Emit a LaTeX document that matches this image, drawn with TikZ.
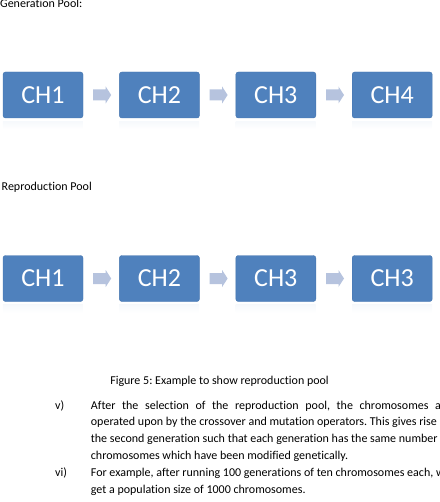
\documentclass[tikz,border=0pt]{standalone}
\usepackage{fontspec}
\setmainfont{Carlito}[Ligatures={NoCommon}]
\usetikzlibrary{positioning}
\usetikzlibrary{calc}
\definecolor{chblue}{RGB}{79,129,189}
\definecolor{chedge}{RGB}{69,117,175}
\definecolor{flowgrey}{RGB}{182,195,222}
\tikzset{chromosome/.style={draw=chedge, fill=chblue, rounded corners=2.5pt, minimum width=80pt, minimum height=46pt, inner sep=0pt, text=white, font=\fontsize{26}{30}\selectfont}}
\tikzset{flow/.style={fill=flowgrey, draw=none}}
\tikzset{bodytext/.style={font=\fontsize{12}{14}\selectfont\frenchspacing, inner sep=0pt, anchor=base west}}

\begin{document}
\begin{tikzpicture}[x=1pt,y=-1pt]
\useasboundingbox (0,0) rectangle (439,502);
\clip (0,0) rectangle (439,502);
%
% generation pool
\node[bodytext] (genlabel) at (0,7.5) {Generation Pool:};
\node[chromosome] (g1) at (43,95) {CH1};
\node[chromosome,right=36pt of g1] (g2) {CH2};
\node[chromosome,right=36pt of g2] (g3) {CH3};
\node[chromosome,right=36pt of g3] (g4) {CH4};
%
% reproduction pool
\node[bodytext] (replabel) at (1.5,190.5) {Reproduction Pool};
\node[chromosome] (r1) at (43,278.5) {CH1};
\node[chromosome,right=36pt of r1] (r2) {CH2};
\node[chromosome,right=36pt of r2] (r3) {CH3};
\node[chromosome,right=36pt of r3] (r4) {CH3};
%
% block arrows between the boxes
\foreach \a/\b in {g1/g2,g2/g3,g3/g4,r1/r2,r2/r3,r3/r4}
  \fill[flow] ($(\a.east)!0.5!(\b.west)$) ++(-8,-5.5) -- ++(12.5,0) -- ++(0,-3)
    -- ++(5.5,8.5) -- ++(-5.5,8.5) -- ++(0,-3) -- ++(-12.5,0) -- cycle;
%
% faint reflections
\foreach \b in {g1,g2,g3,g4,r1,r2,r3,r4}
  \shade[top color=chblue!5,bottom color=white] ($(\b.south west)+(0,3)$) rectangle ++(80,8);
%
% caption
\node[bodytext,anchor=base] (caption) at (219.5,384) {Figure 5: Example to show reproduction pool};
%
% list items
\node[bodytext] (itemv) at (55,409) {v)};
\node[bodytext] (linea) at (90.7,409) {\makebox[350pt][s]{After the selection of the reproduction pool, the chromosomes a}};
\node[bodytext] (lineb) at (90.7,425.8) {operated upon by the crossover and mutation operators. This gives rise};
\node[bodytext] (linec) at (90.7,442.6) {the second generation such that each generation has the same number};
\node[bodytext] (lined) at (90.7,459.4) {chromosomes which have been modified genetically.};
\node[bodytext] (itemvi) at (55,476.2) {vi)};
\node[bodytext] (linee) at (90.7,476.2) {For example, after running 100 generations of ten chromosomes each, w};
\node[bodytext] (linef) at (90.7,493) {get a population size of 1000 chromosomes.};
\end{tikzpicture}
\end{document}
